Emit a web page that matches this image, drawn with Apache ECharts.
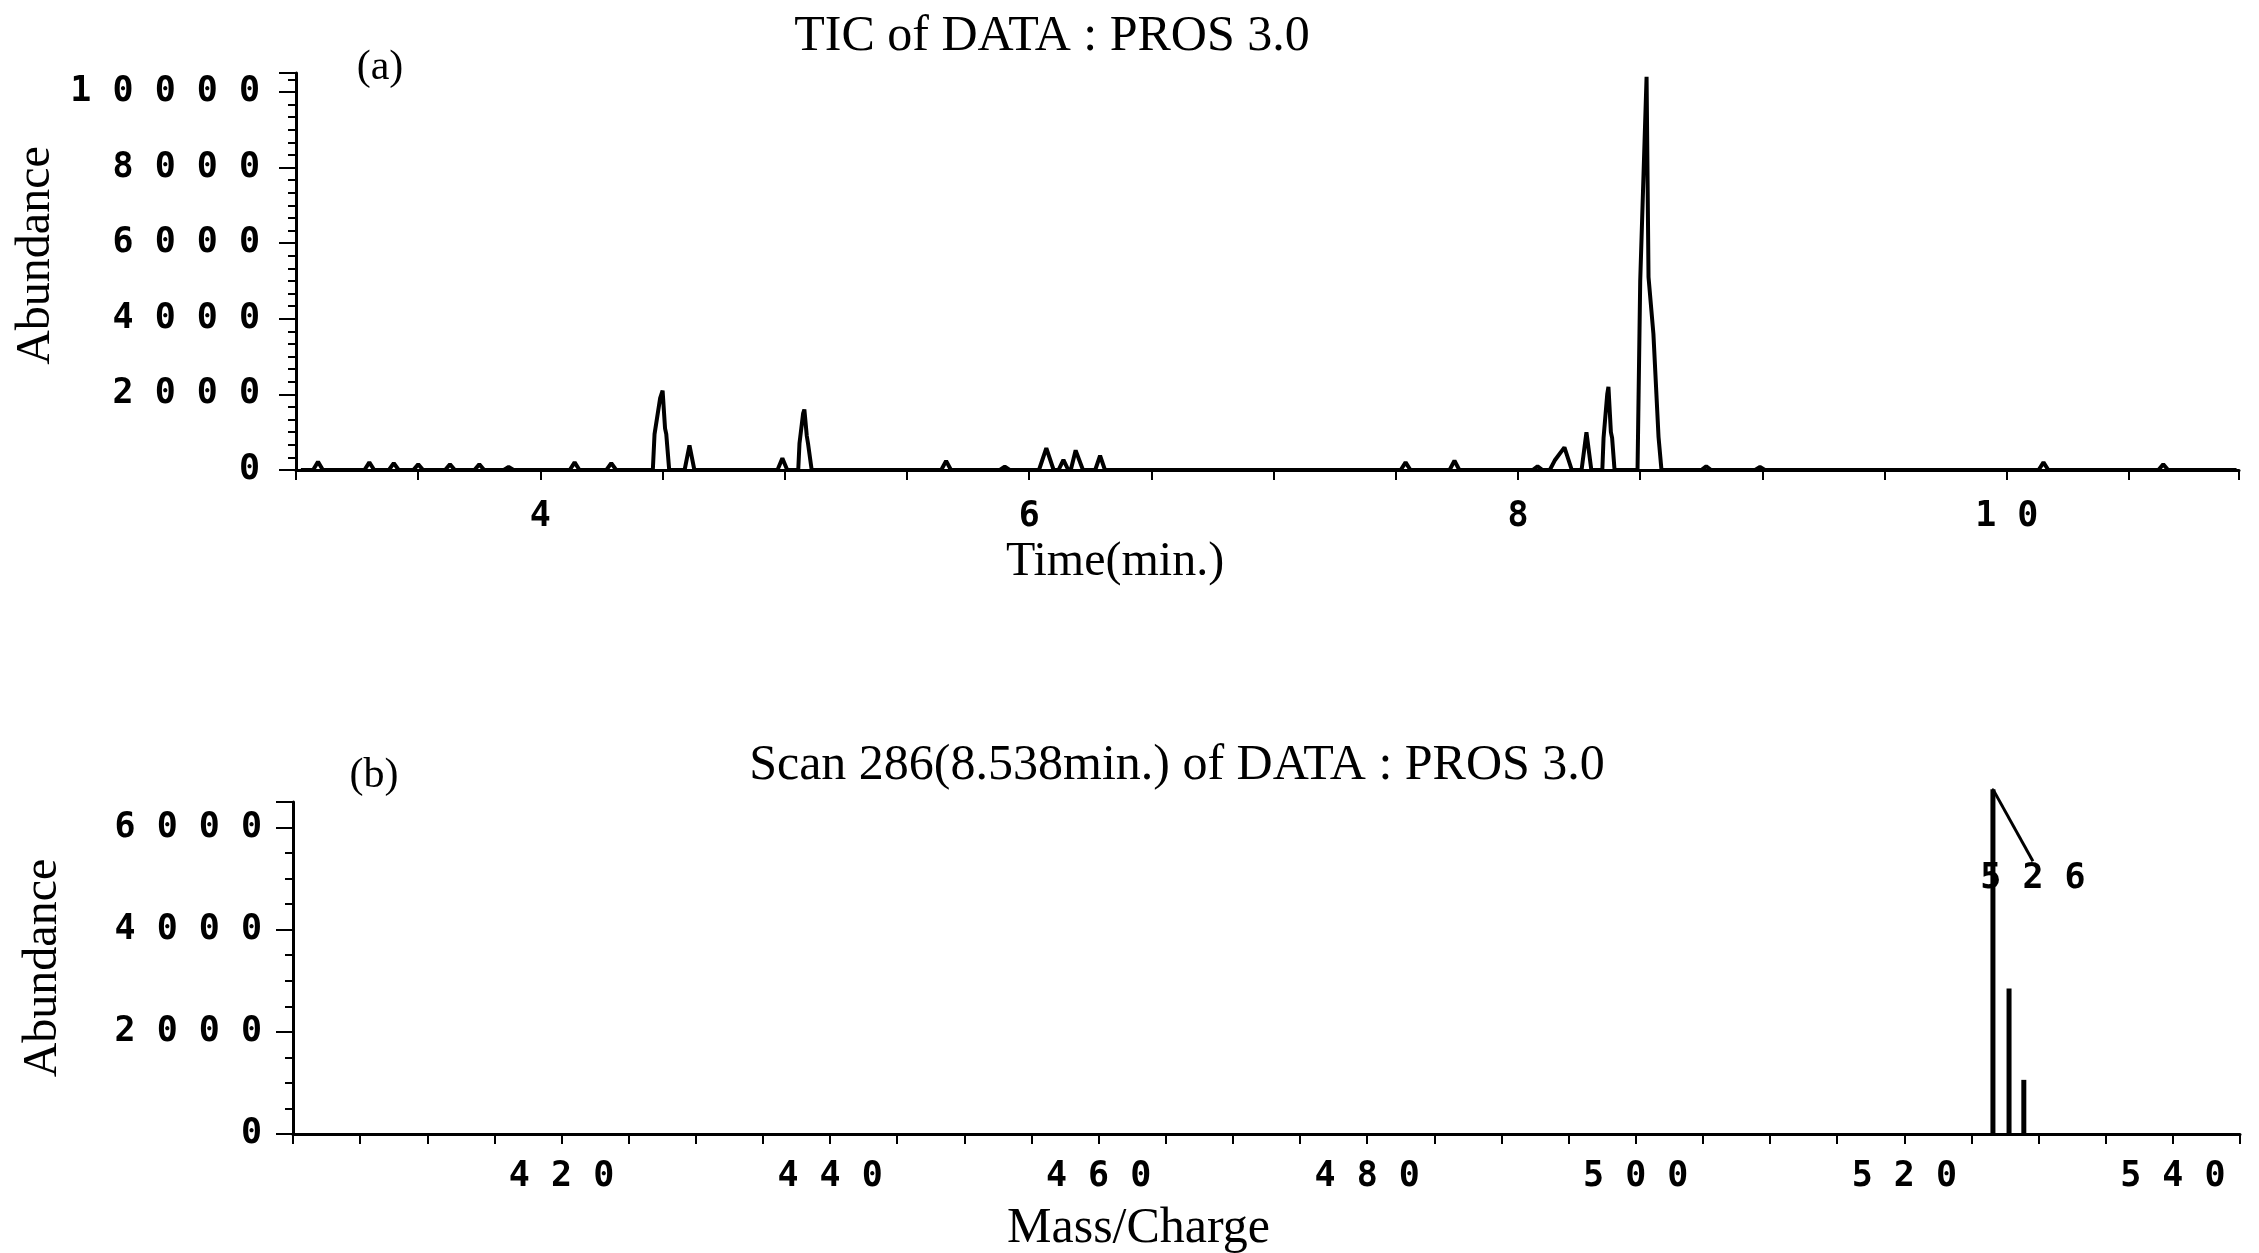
<!DOCTYPE html>
<html>
<head>
<meta charset="utf-8">
<script src="https://cdn.jsdelivr.net/npm/echarts@6/dist/echarts.min.js"></script>
<style>
  html, body { margin: 0; padding: 0; background: #fff; }
  #chart { width: 2259px; height: 1253px; }
</style>
</head>
<body>
<div id="chart"></div>
<script>
/* (a) TIC - tiempo (min) y abundancia */
const ticTime = [
    3.02,
    3.07, 3.09, 3.11,
    3.28, 3.30, 3.32,
    3.38, 3.40, 3.42,
    3.48, 3.50, 3.52,
    3.61, 3.63, 3.65,
    3.73, 3.75, 3.77,
    3.85, 3.87, 3.89,
    4.12, 4.14, 4.16,
    4.27, 4.29, 4.31,
    4.46, 4.467, 4.49, 4.50, 4.51, 4.515, 4.527,
    4.59, 4.61, 4.63,
    4.97, 4.99, 5.01,
    5.055, 5.06, 5.075, 5.08, 5.09, 5.095, 5.11,
    5.64, 5.66, 5.68,
    5.88, 5.90, 5.92,
    6.04, 6.07, 6.10,
    6.12, 6.14, 6.16,
    6.17, 6.19, 6.22,
    6.27, 6.29, 6.31,
    7.52, 7.54, 7.56,
    7.72, 7.74, 7.76,
    8.06, 8.08, 8.10,
    8.13, 8.15, 8.19, 8.22,
    8.26, 8.28, 8.30,
    8.345, 8.35, 8.365, 8.37, 8.38, 8.385, 8.395,
    8.489, 8.50, 8.526, 8.534, 8.554, 8.575, 8.587,
    8.75, 8.77, 8.79,
    8.97, 8.99, 9.01,
    10.13, 10.15, 10.17,
    10.62, 10.64, 10.66,
    10.94
];
const ticAbundance = [
    0,
    0, 220, 0,
    0, 200, 0,
    0, 180, 0,
    0, 150, 0,
    0, 150, 0,
    0, 150, 0,
    0, 80, 0,
    0, 200, 0,
    0, 180, 0,
    0, 950, 1900, 2100, 1100, 950, 0,
    0, 650, 0,
    0, 310, 0,
    0, 700, 1500, 1600, 900, 700, 0,
    0, 240, 0,
    0, 90, 0,
    0, 580, 0,
    0, 270, 0,
    0, 520, 0,
    0, 380, 0,
    0, 200, 0,
    0, 250, 0,
    0, 100, 0,
    0, 250, 600, 0,
    0, 1000, 0,
    0, 850, 2000, 2200, 1000, 850, 0,
    0, 5000, 10400, 5100, 3600, 870, 0,
    0, 100, 0,
    0, 80, 0,
    0, 200, 0,
    0, 150, 0,
    0
];

/* (b) espectro del scan 286 (posiciones tal como aparecen en el ploteo) */
const massCharge = [526.6, 527.8, 528.9];
const scanAbundance = [6750, 2850, 1060];
const peakLabel = '526';
const basePeakIndex = 0;

const ticYTicks = [0, 2000, 4000, 6000, 8000, 10000];
const scanYTicks = [0, 2000, 4000, 6000];

/* digitos separados como en el ploteo original */
function spaced(v) {
    return String(v).split('').join(' ');
}

const tickFont = {
    fontFamily: 'DejaVu Sans Mono',
    fontWeight: 'bold',
    fontSize: 35,
    color: '#000'
};
const serif = 'Liberation Serif';

window.renderChart = function () {
    const el = document.getElementById('chart');
    const chart = echarts.init(el, null, { renderer: 'canvas' });

    const ticData = ticTime.map((t, i) => [t, ticAbundance[i]]);
    const scanData = massCharge.map((m, i) => [m, scanAbundance[i]]);

    const axisLine = { lineStyle: { color: '#000', width: 3 } };

    const option = {
        backgroundColor: '#fff',
        animation: false,
        title: [
            { text: 'TIC of DATA : PROS 3.0', left: 1047, top: 7, textAlign: 'center',
              textStyle: { fontFamily: serif, fontWeight: 'normal', fontSize: 50, color: '#000' } },
            { text: '(a)', left: 375, top: 42, textAlign: 'center',
              textStyle: { fontFamily: serif, fontWeight: 'normal', fontSize: 42, color: '#000' } },
            { text: 'Scan 286(8.538min.) of DATA : PROS 3.0', left: 1172, top: 736, textAlign: 'center',
              textStyle: { fontFamily: serif, fontWeight: 'normal', fontSize: 50, color: '#000' } },
            { text: '(b)', left: 369, top: 750, textAlign: 'center',
              textStyle: { fontFamily: serif, fontWeight: 'normal', fontSize: 42, color: '#000' } }
        ],
        grid: [
            { left: 296, right: 20, top: 73, height: 397, containLabel: false, outerBoundsMode: 'none' },
            { left: 293, right: 19, top: 802, height: 332, containLabel: false, outerBoundsMode: 'none' }
        ],
        xAxis: [
            {
                type: 'value', gridIndex: 0, min: 3, max: 10.95, interval: 0.5,
                name: 'Time(min.)', nameLocation: 'middle', nameGap: 68, nameMoveOverlap: false,
                nameTextStyle: { fontFamily: serif, fontSize: 48, color: '#000', padding: [0, 305, 0, 0] },
                axisLine: axisLine,
                axisTick: { length: 10, lineStyle: { color: '#000', width: 2 } },
                axisLabel: Object.assign({
                    interval: 0, margin: 29,
                    formatter: v => (Math.abs(v % 2) < 1e-9 ? spaced(v) : '')
                }, tickFont),
                splitLine: { show: false }
            },
            {
                type: 'value', gridIndex: 1, min: 400, max: 545, interval: 5,
                name: 'Mass/Charge', nameLocation: 'middle', nameGap: 70, nameMoveOverlap: false,
                nameTextStyle: { fontFamily: serif, fontSize: 50, color: '#000', padding: [0, 256, 0, 0] },
                axisLine: axisLine,
                axisTick: { length: 10, lineStyle: { color: '#000', width: 2 } },
                axisLabel: Object.assign({
                    interval: 0, margin: 25,
                    formatter: v => (v % 20 === 0 && v > 400 ? spaced(v) : '')
                }, tickFont),
                splitLine: { show: false }
            }
        ],
        yAxis: [
            {
                type: 'value', gridIndex: 0, min: 0, max: 10500, interval: 2000,
                name: 'Abundance', nameLocation: 'middle', nameGap: 236, nameMoveOverlap: false,
                nameTextStyle: { fontFamily: serif, fontSize: 48, color: '#000', padding: [0, 0, 0, 32] },
                axisLine: axisLine,
                axisTick: { length: 17, lineStyle: { color: '#000', width: 2 } },
                minorTick: { show: true, splitNumber: 6, length: 8, lineStyle: { color: '#000', width: 2 } },
                axisLabel: Object.assign({
                    margin: 36,
                    formatter: v => (ticYTicks.indexOf(v) >= 0 ? spaced(v) : '')
                }, tickFont),
                splitLine: { show: false }
            },
            {
                type: 'value', gridIndex: 1, min: 0, max: 6500, interval: 2000,
                name: 'Abundance', nameLocation: 'middle', nameGap: 226, nameMoveOverlap: false,
                nameTextStyle: { fontFamily: serif, fontSize: 48, color: '#000' },
                axisLine: axisLine,
                axisTick: { length: 17, lineStyle: { color: '#000', width: 2 } },
                minorTick: { show: true, splitNumber: 4, length: 8, lineStyle: { color: '#000', width: 2 } },
                axisLabel: Object.assign({
                    margin: 31,
                    formatter: v => (scanYTicks.indexOf(v) >= 0 ? spaced(v) : '')
                }, tickFont),
                splitLine: { show: false }
            }
        ],
        series: [
            {
                type: 'line',
                xAxisIndex: 0, yAxisIndex: 0,
                data: ticData,
                showSymbol: false,
                clip: false,
                lineStyle: { color: '#000', width: 4 }
            },
            {
                type: 'bar',
                xAxisIndex: 1, yAxisIndex: 1,
                data: scanData,
                barWidth: 5,
                clip: false,
                itemStyle: { color: '#000' }
            },
            {
                type: 'scatter',
                xAxisIndex: 1, yAxisIndex: 1,
                data: [scanData[basePeakIndex]],
                symbolSize: 2,
                clip: false,
                itemStyle: { color: '#000', opacity: 1 },
                label: Object.assign({
                    show: true,
                    position: 'top',
                    distance: 0,
                    formatter: () => spaced(peakLabel)
                }, tickFont),
                labelLayout: { dx: 40, dy: 108 },
                labelLine: { show: true, lineStyle: { color: '#000', width: 3, opacity: 1 } }
            }
        ]
    };

    chart.setOption(option);
    chart.resize();
};

window.renderChart();
</script>
</body>
</html>
